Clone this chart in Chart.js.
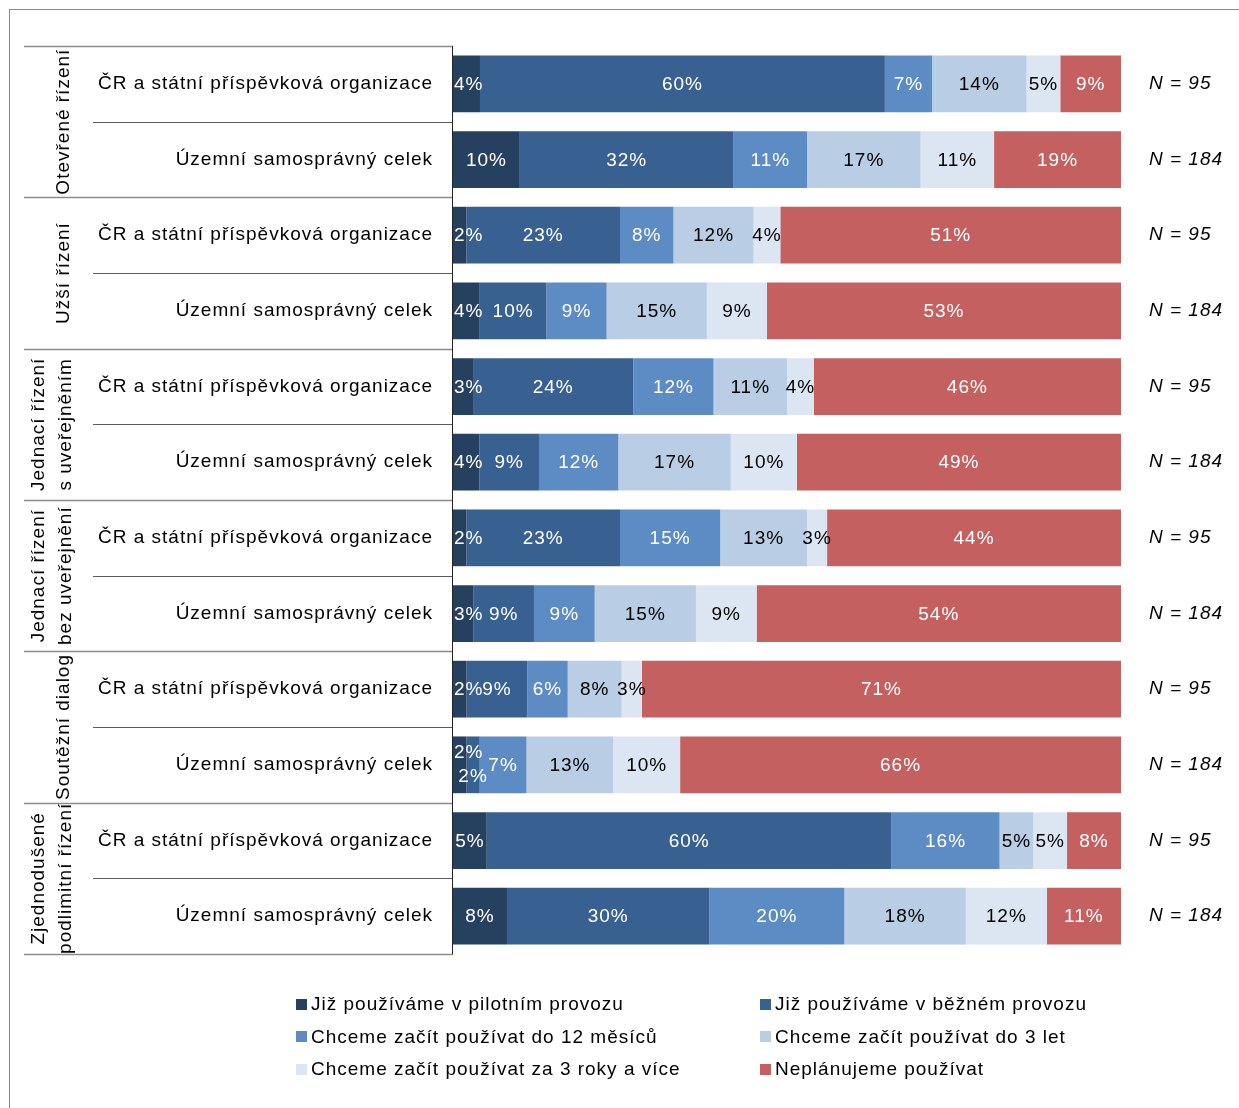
<!DOCTYPE html>
<html lang="cs">
<head>
<meta charset="utf-8">
<title>Používání elektronických nástrojů podle druhu řízení</title>
<script src="https://cdn.jsdelivr.net/npm/chart.js@4.4.1/dist/chart.umd.min.js"></script>
<style>
  html, body { margin: 0; padding: 0; background: #fff; }
  #wrap { position: relative; width: 1239px; height: 1108px; overflow: hidden; font-family: "Liberation Sans", Arial, sans-serif; }
  #frame { position: absolute; left: 9px; top: 9px; width: 1400px; height: 1300px; border-top: 1px solid #8a8a8a; border-left: 1px solid #8a8a8a; }
  #chart { position: absolute; left: 0; top: 0; }
  #legend { position: absolute; left: 296px; top: 988px; display: grid; grid-template-columns: 464px auto; }
  .item { display: flex; align-items: center; height: 32.5px; font-size: 19px; letter-spacing: 1px; color: #000; white-space: nowrap; }
  .sw { width: 11px; height: 11px; margin-right: 4px; flex: none; }
</style>
</head>
<body>
<div id="wrap">
  <div id="frame"></div>
  <canvas id="chart" width="1239" height="1108"></canvas>
  <div id="legend"></div>
</div>
<script>
/* global Chart */
(function () {
  "use strict";

  const FONT = '"Liberation Sans", Arial, sans-serif';

  // rows, top to bottom
  const rowLabels = [
    "ČR a státní příspěvková organizace", "Územní samosprávný celek",
    "ČR a státní příspěvková organizace", "Územní samosprávný celek",
    "ČR a státní příspěvková organizace", "Územní samosprávný celek",
    "ČR a státní příspěvková organizace", "Územní samosprávný celek",
    "ČR a státní příspěvková organizace", "Územní samosprávný celek",
    "ČR a státní příspěvková organizace", "Územní samosprávný celek",
  ];
  const groupLabels = [
    ["Otevřené řízení"],
    ["Užší řízení"],
    ["Jednací řízení", "s uveřejněním"],
    ["Jednací řízení", "bez uveřejnění"],
    ["Soutěžní dialog"],
    ["Zjednodušené", "podlimitní řízení"],
  ];
  const nLabels = [
    "N = 95", "N = 184", "N = 95", "N = 184", "N = 95", "N = 184",
    "N = 95", "N = 184", "N = 95", "N = 184", "N = 95", "N = 184",
  ];

  const seriesNames = [
    "Již používáme v pilotním provozu",
    "Již používáme v běžném provozu",
    "Chceme začít používat do 12 měsíců",
    "Chceme začít používat do 3 let",
    "Chceme začít používat za 3 roky a více",
    "Neplánujeme používat",
  ];
  const pilot   = [4, 10, 2, 4, 3, 4, 2, 3, 2, 2, 5, 8];
  const bezny   = [60, 32, 23, 10, 24, 9, 23, 9, 9, 2, 60, 30];
  const do12    = [7, 11, 8, 9, 12, 12, 15, 9, 6, 7, 16, 20];
  const do3     = [14, 17, 12, 15, 11, 17, 13, 15, 8, 13, 5, 18];
  const za3     = [5, 11, 4, 9, 4, 10, 3, 9, 3, 10, 5, 12];
  const neplan  = [9, 19, 51, 53, 46, 49, 44, 54, 71, 66, 8, 11];

  const series = [pilot, bezny, do12, do3, za3, neplan];
  const colors = ["#26405F", "#386192", "#5D8BC4", "#B9CDE5", "#DCE6F2", "#C4605F"];
  const labelColors = ["#fff", "#fff", "#fff", "#000", "#000", "#fff"];

  // 100 % stacked: each row scaled to its own total
  const rowTotals = rowLabels.map((_, r) => series.reduce((s, arr) => s + arr[r], 0));

  const datasets = series.map((arr, i) => ({
    label: seriesNames[i],
    data: arr.map((v, r) => (v / rowTotals[r]) * 100),
    raw: arr,
    backgroundColor: colors[i],
    borderWidth: 0,
    categoryPercentage: 1,
    barPercentage: 0.75,
  }));

  const spacing = {
    id: "spacing",
    beforeDraw(chart) { chart.ctx.letterSpacing = "1px"; },
  };

  const sideLabels = {
    id: "sideLabels",
    afterDraw(chart) {
      const { ctx, chartArea } = chart;
      const y = chart.scales.y;
      const n = rowLabels.length;
      const step = (y.bottom - y.top) / n;
      ctx.save();

      for (let k = 0; k <= n; k++) {
        const py = Math.round(y.top + k * step) + 0.5;
        ctx.beginPath();
        if (k % 2 === 0) {
          ctx.strokeStyle = "#8c8c8c";
          ctx.lineWidth = 1.5;
          ctx.moveTo(24, py);
        } else {
          ctx.strokeStyle = "#5a5a5a";
          ctx.lineWidth = 1;
          ctx.moveTo(93, py);
        }
        ctx.lineTo(chartArea.left, py);
        ctx.stroke();
      }

      ctx.beginPath();
      ctx.strokeStyle = "#222";
      ctx.lineWidth = 1;
      ctx.moveTo(chartArea.left - 0.5, y.top);
      ctx.lineTo(chartArea.left - 0.5, y.bottom);
      ctx.stroke();

      ctx.fillStyle = "#000";
      ctx.font = `19px ${FONT}`;
      ctx.textAlign = "center";
      ctx.textBaseline = "middle";
      ctx.letterSpacing = "1px";
      groupLabels.forEach((lines, g) => {
        const cy = y.top + (g * 2 + 1) * step;
        const cx = lines.length === 1 ? 63 : 51.5;
        lines.forEach((line, li) => {
          const lx = cx + (li - (lines.length - 1) / 2) * 27;
          ctx.save();
          ctx.translate(lx, cy);
          ctx.rotate(-Math.PI / 2);
          ctx.fillText(line, 0, 1);
          ctx.restore();
        });
      });
      ctx.restore();
    },
  };

  const barLabels = {
    id: "barLabels",
    afterDatasetsDraw(chart) {
      const { ctx, chartArea } = chart;
      ctx.save();
      ctx.font = `19px ${FONT}`;
      ctx.textBaseline = "middle";
      ctx.textAlign = "center";
      ctx.letterSpacing = "1px";
      const metas = chart.data.datasets.map((_, i) => chart.getDatasetMeta(i));
      for (let r = 0; r < rowLabels.length; r++) {
        const segs = metas.map((m) => m.data[r].getProps(["x", "base", "y"], true));
        const shift = segs.map(() => 0);
        for (let i = 1; i < segs.length; i++) {
          const w0 = segs[i - 1].x - segs[i - 1].base;
          const w1 = segs[i].x - segs[i].base;
          if (w0 < 20 && w1 < 20 && shift[i - 1] === 0) {
            shift[i - 1] = -13;
            shift[i] = 11;
          }
        }
        segs.forEach((s, i) => {
          const v = chart.data.datasets[i].raw[r];
          if (!v) return;
          const text = `${v}%`;
          const tw = ctx.measureText(text).width;
          let cx = (s.x + s.base) / 2;
          if (cx - tw / 2 < chartArea.left + 1) cx = chartArea.left + 1 + tw / 2;
          ctx.fillStyle = labelColors[i];
          ctx.fillText(text, cx, s.y + 1 + shift[i]);
        });
      }
      ctx.restore();
    },
  };

  const ctx = document.getElementById("chart").getContext("2d");
  const chart = new Chart(ctx, {
    type: "bar",
    data: { labels: rowLabels, datasets },
    options: {
      indexAxis: "y",
      responsive: false,
      animation: false,
      devicePixelRatio: 1,
      layout: { padding: { left: 0, right: 0, top: 46, bottom: 154 } },
      scales: {
        x: { stacked: true, min: 0, max: 100, display: false },
        y: {
          type: "category",
          stacked: true,
          offset: true,
          grid: { display: false, drawTicks: false },
          border: { display: false },
          ticks: { color: "#000", font: { family: FONT, size: 19 }, padding: 20, autoSkip: false },
          afterFit(s) { s.width = 453; },
        },
        y2: {
          type: "category",
          labels: nLabels,
          position: "right",
          offset: true,
          grid: { display: false, drawTicks: false },
          border: { display: false },
          ticks: { color: "#000", font: { family: FONT, size: 19, style: "italic" }, padding: 28, autoSkip: false },
          afterFit(s) { s.width = 118; },
        },
      },
      plugins: {
        legend: { display: false },
        tooltip: { enabled: false },
      },
    },
    plugins: [spacing, sideLabels, barLabels],
  });

  // two-column legend, filled row by row like the original
  document.getElementById("legend").innerHTML = chart.data.datasets
    .map((d) => `<div class="item"><span class="sw" style="background:${d.backgroundColor}"></span>${d.label}</div>`)
    .join("");
})();
</script>
</body>
</html>
